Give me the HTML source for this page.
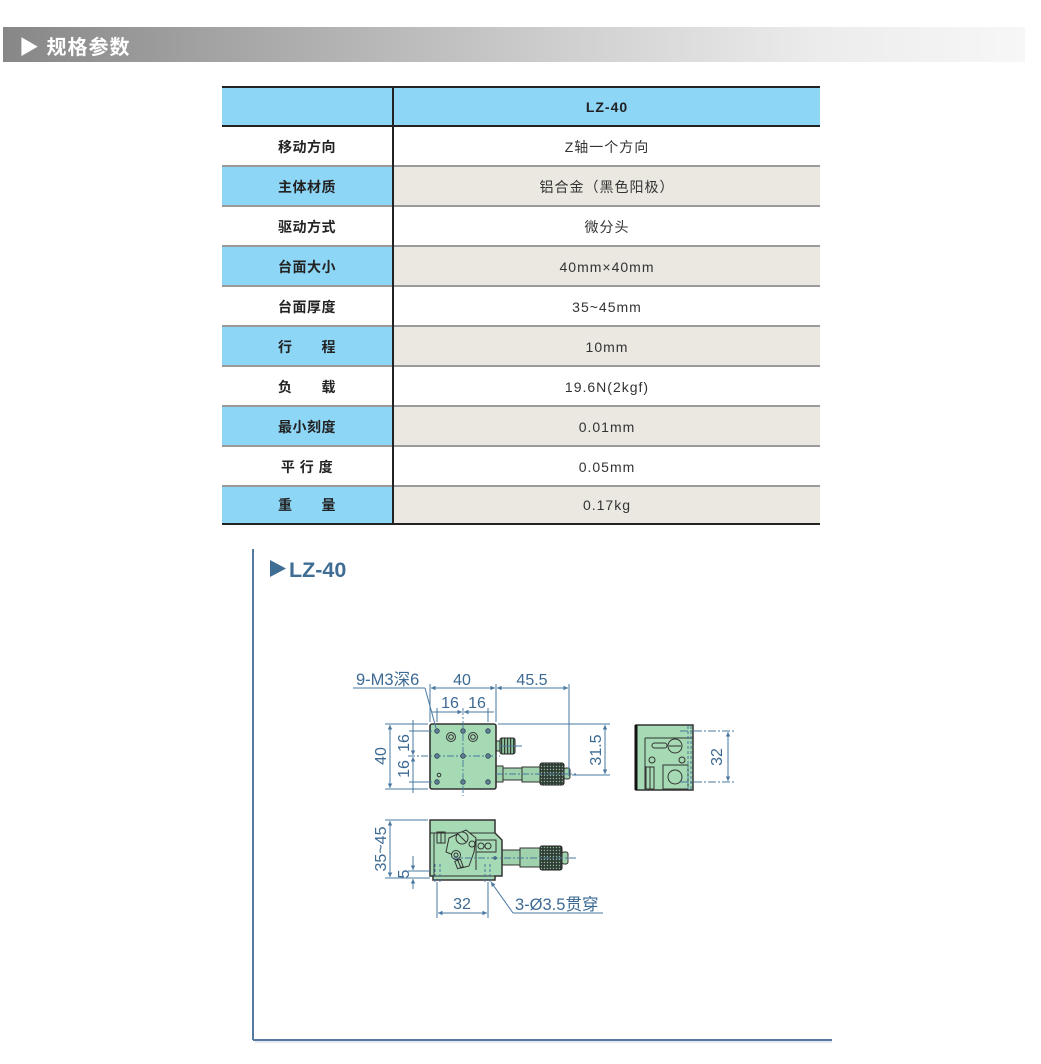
<!DOCTYPE html>
<html>
<head>
<meta charset="utf-8">
<style>
  html,body{margin:0;padding:0;background:#fff;}
  #page{position:relative;width:1041px;height:1064px;overflow:hidden;background:#fff;
    font-family:"Liberation Sans","Noto Sans CJK SC",sans-serif;}
  .bar{position:absolute;left:3px;top:27px;width:1022px;height:35px;
    background:linear-gradient(to right,#878787 0%,#a9a9a9 25%,#cfcfcf 55%,#ececec 80%,#f7f7f7 100%);}
  .bar span{position:absolute;left:16px;top:4px;color:#fff;font-weight:bold;font-size:20px;
    font-family:"Liberation Sans","Noto Sans CJK SC",sans-serif;letter-spacing:1px;}
  .cell{position:absolute;display:flex;align-items:center;justify-content:center;box-sizing:border-box;}
  .lab{left:222px;width:170px;font-weight:bold;font-size:14px;color:#222;letter-spacing:0.5px;}
  .val{left:394px;width:426px;font-size:14px;color:#333;letter-spacing:1px;}
  .blue{background:#8dd6f6;}
  .beige{background:#ebe8e2;}
  .sep{position:absolute;left:222px;width:598px;height:2px;background:#9a9a9a;}
  .dark{position:absolute;background:#222;}
</style>
</head>
<body>
<div id="page">
  <div class="bar"><span>▶ 规格参数</span></div>

  <div class="cell blue" style="left:222px;width:598px;top:87px;height:39px;"></div>
  <div class="cell val" style="top:87px;height:39px;font-weight:bold;color:#222;font-size:14px;letter-spacing:1px;">LZ-40</div>

  <div class="cell lab" style="top:127px;height:39px;">移动方向</div>
  <div class="cell val" style="top:127px;height:39px;">Z轴一个方向</div>

  <div class="cell lab blue" style="top:167px;height:39px;">主体材质</div>
  <div class="cell val beige" style="top:167px;height:39px;">铝合金（黑色阳极）</div>

  <div class="cell lab" style="top:207px;height:39px;">驱动方式</div>
  <div class="cell val" style="top:207px;height:39px;">微分头</div>

  <div class="cell lab blue" style="top:247px;height:39px;">台面大小</div>
  <div class="cell val beige" style="top:247px;height:39px;">40mm×40mm</div>

  <div class="cell lab" style="top:287px;height:39px;">台面厚度</div>
  <div class="cell val" style="top:287px;height:39px;">35~45mm</div>

  <div class="cell lab blue" style="top:327px;height:39px;">行&emsp;&emsp;程</div>
  <div class="cell val beige" style="top:327px;height:39px;">10mm</div>

  <div class="cell lab" style="top:367px;height:39px;">负&emsp;&emsp;载</div>
  <div class="cell val" style="top:367px;height:39px;">19.6N(2kgf)</div>

  <div class="cell lab blue" style="top:407px;height:39px;">最小刻度</div>
  <div class="cell val beige" style="top:407px;height:39px;">0.01mm</div>

  <div class="cell lab" style="top:447px;height:39px;">平 行 度</div>
  <div class="cell val" style="top:447px;height:39px;">0.05mm</div>

  <div class="cell lab blue" style="top:487px;height:36px;">重&emsp;&emsp;量</div>
  <div class="cell val beige" style="top:487px;height:36px;">0.17kg</div>

  <div class="sep" style="top:165px;"></div>
  <div class="sep" style="top:205px;"></div>
  <div class="sep" style="top:245px;"></div>
  <div class="sep" style="top:285px;"></div>
  <div class="sep" style="top:325px;"></div>
  <div class="sep" style="top:365px;"></div>
  <div class="sep" style="top:405px;"></div>
  <div class="sep" style="top:445px;"></div>
  <div class="sep" style="top:485px;"></div>

  <div class="dark" style="left:222px;width:598px;top:86px;height:2px;"></div>
  <div class="dark" style="left:222px;width:598px;top:125px;height:2px;"></div>
  <div class="dark" style="left:222px;width:598px;top:523px;height:2px;"></div>
  <div class="dark" style="left:392px;width:2px;top:86px;height:439px;"></div>

  <svg width="1041" height="1064" style="position:absolute;left:0;top:0;" xmlns="http://www.w3.org/2000/svg">
    <defs>
      <marker id="ar" viewBox="0 0 10 10" refX="10" refY="5" markerWidth="6" markerHeight="4.5" orient="auto-start-reverse" markerUnits="userSpaceOnUse">
        <path d="M0,0 L10,5 L0,10 z" fill="#4a78a0"/>
      </marker>
      <pattern id="kn" width="3" height="3" patternUnits="userSpaceOnUse">
        <rect width="3" height="3" fill="#2f3b33"/>
        <rect x="0.8" y="0.8" width="1.3" height="1.3" fill="#8fb99c"/>
      </pattern>
      <pattern id="kv" width="3" height="3" patternUnits="userSpaceOnUse">
        <rect width="3" height="3" fill="#8fc39e"/>
        <rect x="0" y="0" width="1.2" height="3" fill="#2f3b33"/>
      </pattern>
    </defs>

    <line x1="253" y1="549" x2="253" y2="1040" stroke="#55799f" stroke-width="2"/>
    <line x1="253" y1="1040" x2="832" y2="1040" stroke="#55799f" stroke-width="2"/>
    <line x1="255" y1="1042" x2="832" y2="1042" stroke="#c9d6e3" stroke-width="1"/>

    <polygon points="270,560 286,568.5 270,577" fill="#3f6d94"/>
    <text x="289" y="577" font-family="Liberation Sans, sans-serif" font-weight="bold" font-size="21.5" fill="#3f6d94">LZ-40</text>

    <g font-family="Liberation Sans, Noto Sans CJK SC, sans-serif" font-size="15" fill="#3d6a93">
    <!-- TOP VIEW -->
    <rect x="496" y="766" width="7" height="16" fill="#9fd2ad" stroke="#333" stroke-width="1"/>
    <rect x="503" y="768" width="19" height="12" fill="#9fd2ad" stroke="#333" stroke-width="1"/>
    <rect x="522" y="767" width="18" height="15" fill="#9fd2ad" stroke="#333" stroke-width="1"/>
    <rect x="540" y="763" width="24" height="22" rx="2" fill="url(#kn)" stroke="#222" stroke-width="1"/>
    <rect x="564" y="768" width="6" height="11" rx="2" fill="#9fd2ad" stroke="#333" stroke-width="1"/>
    <rect x="496" y="741" width="4" height="10" fill="#9fd2ad" stroke="#333" stroke-width="1"/>
    <rect x="500" y="738" width="15" height="16" rx="2" fill="url(#kv)" stroke="#222" stroke-width="1"/>
    <rect x="430" y="724" width="66" height="65" rx="2" fill="#a6dab4" stroke="#333" stroke-width="1.6"/>
    <line x1="408" y1="756" x2="500" y2="756" stroke="#4a78a0" stroke-width="0.9" stroke-dasharray="7,2,2,2"/>
    <line x1="463" y1="708" x2="463" y2="796" stroke="#4a78a0" stroke-width="0.9" stroke-dasharray="7,2,2,2"/>
    <line x1="496" y1="774" x2="576" y2="774" stroke="#4a78a0" stroke-width="0.9" stroke-dasharray="7,2,2,2"/>
    <line x1="500" y1="746" x2="522" y2="746" stroke="#4a78a0" stroke-width="0.9"/>
    <g fill="#5f7f95" stroke="#2c4252" stroke-width="0.8">
      <circle cx="437" cy="731" r="2.3"/><circle cx="463" cy="731" r="2.3"/><circle cx="488" cy="731" r="2.3"/>
      <circle cx="437" cy="756" r="2.3"/><circle cx="463" cy="756" r="2.3"/><circle cx="488" cy="756" r="2.3"/>
      <circle cx="437" cy="782" r="2.3"/><circle cx="463" cy="782" r="2.3"/><circle cx="488" cy="782" r="2.3"/>
    </g>
    <g fill="#a6dab4" stroke="#333" stroke-width="1">
      <circle cx="451" cy="737" r="4.5"/><circle cx="451" cy="737" r="2.3"/>
      <circle cx="473" cy="737" r="4.5"/><circle cx="473" cy="737" r="2.3"/>
      <circle cx="439" cy="775" r="1.8"/>
    </g>
    <g stroke="#4a78a0" stroke-width="1" fill="none">
      <line x1="430" y1="684" x2="430" y2="722"/>
      <line x1="496" y1="684" x2="496" y2="722"/>
      <line x1="569" y1="684" x2="569" y2="776"/>
      <line x1="431" y1="688" x2="495" y2="688" marker-start="url(#ar)" marker-end="url(#ar)"/>
      <line x1="497" y1="688" x2="568" y2="688" marker-start="url(#ar)" marker-end="url(#ar)"/>
      <line x1="353" y1="688" x2="425" y2="688"/>
      <line x1="425" y1="688" x2="436" y2="728"/>
      <line x1="437" y1="708" x2="437" y2="722"/>
      <line x1="488" y1="708" x2="488" y2="722"/>
      <line x1="432" y1="712" x2="462" y2="712" marker-end="url(#ar)"/>
      <line x1="464" y1="712" x2="494" y2="712" marker-start="url(#ar)"/>
      <line x1="385" y1="724" x2="428" y2="724"/>
      <line x1="385" y1="789" x2="428" y2="789"/>
      <line x1="390" y1="725" x2="390" y2="788" marker-start="url(#ar)" marker-end="url(#ar)"/>
      <line x1="409" y1="731" x2="432" y2="731"/>
      <line x1="409" y1="782" x2="432" y2="782"/>
      <line x1="413" y1="720" x2="413" y2="755" marker-end="url(#ar)"/>
      <line x1="413" y1="757" x2="413" y2="793" marker-start="url(#ar)"/>
      <line x1="498" y1="724" x2="610" y2="724"/>
      <line x1="572" y1="775" x2="610" y2="775"/>
      <line x1="605" y1="725" x2="605" y2="774" marker-start="url(#ar)" marker-end="url(#ar)"/>
    </g>
    <text x="462" y="685" text-anchor="middle" font-size="16">40</text>
    <text x="532" y="685" text-anchor="middle" font-size="16">45.5</text>
    <text x="356" y="685" font-size="16.5">9-M3深6</text>
    <text x="450" y="708" text-anchor="middle" font-size="16">16</text>
    <text x="477" y="708" text-anchor="middle" font-size="16">16</text>
    <text transform="translate(386,756) rotate(-90)" text-anchor="middle" font-size="16">40</text>
    <text transform="translate(409,743) rotate(-90)" text-anchor="middle" font-size="16">16</text>
    <text transform="translate(409,769) rotate(-90)" text-anchor="middle" font-size="16">16</text>
    <text transform="translate(601,750) rotate(-90)" text-anchor="middle" font-size="16">31.5</text>

    <!-- SIDE VIEW -->
    <rect x="636" y="725" width="57" height="65" fill="#a6dab4" stroke="#333" stroke-width="1.5"/>
    <line x1="636" y1="725" x2="636" y2="790" stroke="#111" stroke-width="3"/>
    <g fill="none" stroke="#333" stroke-width="1">
      <line x1="645" y1="738" x2="693" y2="738"/>
      <line x1="645" y1="738" x2="645" y2="790"/>
      <rect x="652" y="743" width="15" height="5" rx="2.5"/>
      <circle cx="675" cy="746" r="7" fill="#a6dab4"/>
      <line x1="669" y1="746" x2="681" y2="746"/>
      <circle cx="652" cy="760" r="3"/>
      <circle cx="682" cy="760" r="3"/>
      <rect x="663" y="765" width="25" height="24"/>
      <circle cx="675" cy="777" r="7"/>
      <rect x="646" y="767" width="4" height="22"/>
      <rect x="650" y="767" width="4" height="22"/>
    </g>
    <g stroke="#4a78a0" stroke-width="1" fill="none">
      <line x1="688" y1="726" x2="688" y2="789" stroke-dasharray="3,2"/>
      <line x1="691" y1="726" x2="691" y2="789" stroke-dasharray="3,2"/>
      <line x1="680" y1="731" x2="734" y2="731" stroke-dasharray="8,2,2,2"/>
      <line x1="680" y1="782" x2="734" y2="782" stroke-dasharray="8,2,2,2"/>
      <line x1="728" y1="732" x2="728" y2="781" marker-start="url(#ar)" marker-end="url(#ar)"/>
    </g>
    <text transform="translate(722,757) rotate(-90)" text-anchor="middle" font-size="16">32</text>

    <!-- FRONT VIEW -->
    <rect x="502" y="850" width="18" height="15" fill="#9fd2ad" stroke="#333" stroke-width="1"/>
    <rect x="520" y="848" width="20" height="19" fill="#9fd2ad" stroke="#333" stroke-width="1"/>
    <rect x="540" y="846" width="22" height="24" rx="2" fill="url(#kn)" stroke="#222" stroke-width="1"/>
    <rect x="562" y="852" width="6" height="12" rx="2" fill="#9fd2ad" stroke="#333" stroke-width="1"/>
    <path d="M430,820 H495 V833 L502,840 V876 H495 V880 H433 V876 H430 Z" fill="#a6dab4" stroke="#333" stroke-width="1.5"/>
    <g fill="none" stroke="#333" stroke-width="1">
      <line x1="430" y1="833" x2="495" y2="833"/>
      <line x1="433" y1="876" x2="495" y2="876"/>
      <line x1="434" y1="833" x2="434" y2="876"/>
      <rect x="437" y="832" width="4" height="11"/>
      <rect x="441" y="832" width="4" height="11"/>
      <path d="M449,838 L466,830 L476,838 L474,852 L469,866 L461,868 L456,856 L446,852 Z" fill="#a6dab4"/>
      <circle cx="462" cy="838" r="6" fill="#a6dab4"/>
      <line x1="458" y1="834" x2="466" y2="842"/>
      <circle cx="472" cy="844" r="3"/>
      <circle cx="456" cy="855" r="4.5" fill="#a6dab4"/>
      <circle cx="456" cy="855" r="2"/>
      <rect x="476" y="840" width="20" height="12" fill="#a6dab4"/>
      <circle cx="481" cy="846" r="3"/>
      <circle cx="488" cy="846" r="3"/>
      <line x1="476" y1="852" x2="476" y2="870"/>
      <rect x="456" y="860" width="6" height="8" transform="rotate(-20 459 864)"/>
    </g>
    <circle cx="495" cy="858" r="1.8" fill="#3f5f7a"/>
    <g stroke="#4a78a0" stroke-width="1" fill="none">
      <line x1="452" y1="858" x2="576" y2="858" stroke-dasharray="7,2,2,2"/>
      <line x1="435" y1="864" x2="435" y2="884" stroke-dasharray="3,2"/>
      <line x1="440" y1="864" x2="440" y2="884" stroke-dasharray="3,2"/>
      <line x1="485" y1="864" x2="485" y2="884" stroke-dasharray="3,2"/>
      <line x1="490" y1="864" x2="490" y2="884" stroke-dasharray="3,2"/>
      <line x1="385" y1="820" x2="428" y2="820"/>
      <line x1="385" y1="878" x2="430" y2="878"/>
      <line x1="390" y1="821" x2="390" y2="877" marker-start="url(#ar)" marker-end="url(#ar)"/>
      <line x1="408" y1="871" x2="430" y2="871"/>
      <line x1="413" y1="856" x2="413" y2="870" marker-end="url(#ar)"/>
      <line x1="413" y1="889" x2="413" y2="879" marker-end="url(#ar)"/>
      <line x1="437" y1="882" x2="437" y2="918"/>
      <line x1="488" y1="882" x2="488" y2="918"/>
      <line x1="438" y1="913" x2="487" y2="913" marker-start="url(#ar)" marker-end="url(#ar)"/>
      <line x1="513" y1="913" x2="603" y2="913"/>
      <line x1="513" y1="913" x2="491" y2="882" marker-end="url(#ar)"/>
    </g>
    <text transform="translate(386,849) rotate(-90)" text-anchor="middle" font-size="16">35~45</text>
    <text transform="translate(409,874) rotate(-90)" text-anchor="middle" font-size="16">5</text>
    <text x="462" y="909" text-anchor="middle" font-size="16">32</text>
    <text x="515" y="910" font-size="16.5">3-Ø3.5贯穿</text>
    </g>
  </svg>
</div>
</body>
</html>
